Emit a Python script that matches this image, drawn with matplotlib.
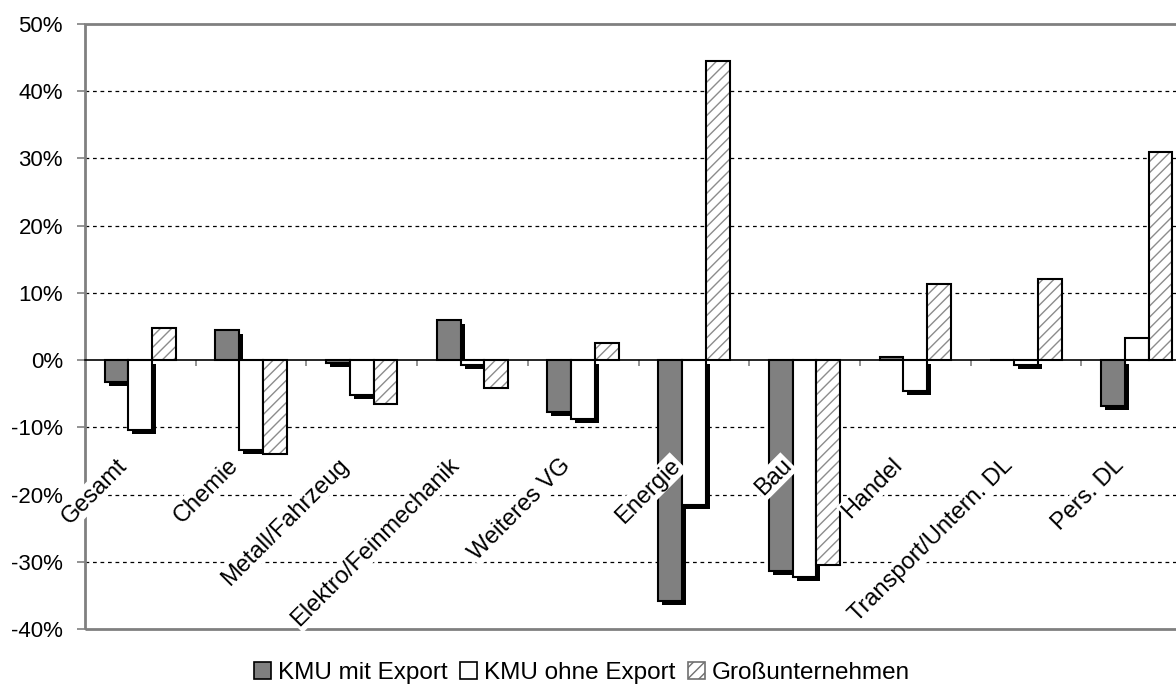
import numpy as np
import matplotlib.pyplot as plt
from matplotlib.patches import Patch, Rectangle
from matplotlib.ticker import FuncFormatter

plt.rcParams['font.family'] = ['Liberation Sans', 'DejaVu Sans']
plt.rcParams['hatch.linewidth'] = 1.0

categories = ['Gesamt', 'Chemie', 'Metall/Fahrzeug', 'Elektro/Feinmechanik', 'Weiteres VG',
              'Energie', 'Bau', 'Handel', 'Transport/Untern. DL', 'Pers. DL']
series_names = ['KMU mit Export', 'KMU ohne Export', 'Großunternehmen']
kmu_export = [-3.2, 4.5, -0.4, 6.0, -7.7, -35.8, -31.3, 0.4, 0.0, -6.9]
kmu_ohne = [-10.4, -13.4, -5.2, -0.8, -8.7, -21.6, -32.2, -4.6, -0.7, 3.3]
gross = [4.8, -13.9, -6.5, -4.1, 2.6, 44.5, -30.5, 11.3, 12.0, 31.0]
yticks = [-40, -30, -20, -10, 0, 10, 20, 30, 40, 50]

fig = plt.figure(figsize=(11.76, 6.95), dpi=100)
ax = fig.add_axes([85 / 1176, 1 - 629 / 695, 1107 / 1176, 605 / 695])

x = np.arange(len(categories))
w = 0.215
# shadow offset: about 4 px right and 4 px down
sdx = 4 / 110.7
sdy = 4 / 6.72


def shadow_bars(xpos, vals):
    vals = np.asarray(vals, dtype=float)
    bottom = np.where(vals < 0, -sdy, 0.0)
    height = np.where(vals < 0, vals, np.clip(vals - sdy, 0, None))
    ax.bar(xpos + sdx, height, w, bottom=bottom, color='black', linewidth=0, zorder=2)


shadow_bars(x - w, kmu_export)
ax.bar(x - w, kmu_export, w, color='#808080', edgecolor='black', linewidth=1.5, zorder=3)
shadow_bars(x, kmu_ohne)
ax.bar(x, kmu_ohne, w, color='white', edgecolor='black', linewidth=1.5, zorder=3)
# hatched bars: grey hatch, black outline
ax.bar(x + w, gross, w, color='white', edgecolor='#8c8c8c', hatch='///', linewidth=0, zorder=3)
ax.bar(x + w, gross, w, fill=False, edgecolor='black', linewidth=1.5, zorder=4)

ax.set_xlim(-0.5, len(categories) - 0.5)
ax.set_ylim(-40, 50)
ax.set_yticks(yticks)
ax.yaxis.set_major_formatter(FuncFormatter(lambda v, p: '%d%%' % v))
ax.tick_params(axis='y', direction='out', length=5.8, color='#808080', width=1.2, labelsize=16, pad=10)

# gridlines
for v in yticks:
    if v not in (-40, 0, 50):
        ax.axhline(v, color='black', linestyle=(0, (3, 3)), linewidth=0.9, zorder=1)

# frame in grey, category axis at zero
for s in ['top', 'right', 'left']:
    ax.spines[s].set_visible(False)
ax.add_patch(Rectangle((0, 0), 1, 1, transform=ax.transAxes, fill=False,
                       edgecolor='#808080', linewidth=2, zorder=5, clip_on=False))
ax.spines['bottom'].set_position(('data', 0))
ax.spines['bottom'].set_color('black')
ax.spines['bottom'].set_linewidth(1.2)
ax.spines['bottom'].set_zorder(5)
ax.set_xticks(np.arange(len(categories) - 1) + 0.5)
ax.set_xticklabels([])
ax.tick_params(axis='x', direction='out', length=4.5, color='#808080', width=1.2)

for i, name in enumerate(categories):
    ax.text(i - 0.11, -15.8, name, rotation=45, rotation_mode='anchor', ha='right', va='baseline',
            fontsize=17, zorder=6, bbox=dict(facecolor='white', edgecolor='none', pad=1))

handles = [Patch(facecolor='#808080', edgecolor='black', linewidth=1.2),
           Patch(facecolor='white', edgecolor='black', linewidth=1.2),
           Patch(facecolor='white', edgecolor='#707070', hatch='///', linewidth=1.2)]
fig.legend(handles, series_names, loc='center', bbox_to_anchor=(0.495, 1 - 673 / 695), ncol=3,
           frameon=False, fontsize=17.5, handlelength=0.7, handleheight=0.7,
           handletextpad=0.3, columnspacing=0.5)

fig.savefig('out.png', dpi=100)
